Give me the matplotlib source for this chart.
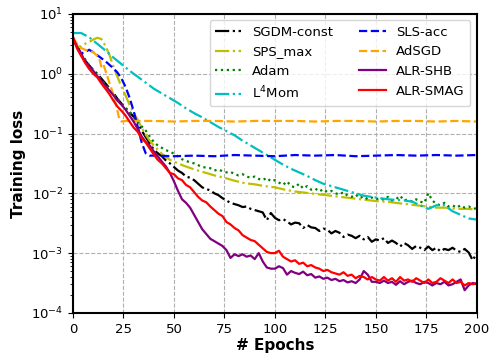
import numpy as np
import matplotlib
matplotlib.use('Agg')
import matplotlib.pyplot as plt

# values are log10(training loss)
ep2 = np.arange(0, 201, 2)

sgdm_const = [0.6, 0.45, 0.32, 0.22, 0.14, 0.06, 0.0, -0.08, -0.16, -0.24,
              -0.32, -0.42, -0.5, -0.58, -0.64, -0.72, -0.8, -0.95, -1.06, -1.16,
              -1.27, -1.33, -1.38, -1.45, -1.5, -1.56, -1.62, -1.66, -1.72, -1.74,
              -1.78, -1.84, -1.9, -1.93, -1.95, -2.0, -2.03, -2.08, -2.12, -2.16,
              -2.18, -2.2, -2.23, -2.22, -2.26, -2.28, -2.3, -2.32, -2.45, -2.33,
              -2.41, -2.45, -2.43, -2.47, -2.52, -2.49, -2.5, -2.58, -2.53, -2.57,
              -2.58, -2.63, -2.59, -2.61, -2.67, -2.63, -2.66, -2.73, -2.69, -2.71,
              -2.75, -2.71, -2.77, -2.73, -2.81, -2.77, -2.79, -2.75, -2.83, -2.79,
              -2.83, -2.89, -2.83, -2.87, -2.93, -2.88, -2.91, -2.95, -2.89, -2.95,
              -2.91, -2.97, -2.93, -2.95, -2.91, -2.96, -2.98, -2.93, -2.99, -3.12,
              -3.0]

sps_ep = list(range(0, 51, 2)) + list(range(55, 201, 5))
sps_max = [0.6, 0.45, 0.46, 0.5, 0.53, 0.57, 0.6, 0.58, 0.47, 0.32,
           0.12, -0.05, -0.22, -0.36, -0.52, -0.65, -0.77, -0.9, -1.02, -1.12,
           -1.2, -1.27, -1.34, -1.39, -1.44, -1.47,
           -1.54, -1.6, -1.65, -1.7, -1.74, -1.79, -1.83, -1.85, -1.88, -1.9,
           -1.94, -1.97, -1.99, -2.01, -2.03, -2.05, -2.07, -2.09, -2.11, -2.13,
           -2.14, -2.16, -2.18, -2.2, -2.22, -2.24, -2.24, -2.26, -2.26, -2.27]

adam = [0.6, 0.47, 0.34, 0.24, 0.14, 0.06, -0.02, -0.1, -0.18, -0.26,
        -0.34, -0.42, -0.5, -0.57, -0.64, -0.72, -0.8, -0.88, -0.95, -1.05,
        -1.14, -1.2, -1.24, -1.28, -1.3,
        -1.34, -1.38, -1.43, -1.46, -1.48, -1.5, -1.53, -1.56, -1.57, -1.58,
        -1.62, -1.6, -1.63, -1.65, -1.64, -1.68, -1.7, -1.68, -1.72, -1.74,
        -1.72, -1.76, -1.78, -1.74, -1.8,
        -1.78, -1.82, -1.86, -1.8, -1.88, -1.9, -1.84, -1.92, -1.88, -1.94,
        -1.92, -1.97, -1.93, -1.98, -1.96, -2.0, -2.02, -1.98, -2.04, -2.06,
        -2.02, -2.08, -2.05, -2.1, -2.07,
        -2.1, -2.08, -2.11, -2.06, -2.12, -2.1, -2.04, -2.12, -2.1, -2.14,
        -2.1, -2.14, -2.16, -2.0, -2.12, -2.18, -2.2, -2.16, -2.22, -2.2,
        -2.24, -2.2, -2.24, -2.22, -2.26, -2.25]

l4_ep = np.arange(0, 201, 4)
l4mom = [0.68, 0.68, 0.61, 0.5, 0.39, 0.27, 0.16, 0.05, -0.05, -0.15,
         -0.25, -0.33, -0.41, -0.49, -0.58, -0.66, -0.73, -0.81, -0.89, -0.96,
         -1.03, -1.12, -1.2, -1.28, -1.36, -1.44, -1.52, -1.59, -1.65, -1.71,
         -1.78, -1.84, -1.88, -1.92, -1.96, -2.0, -2.04, -2.06, -2.08, -2.1,
         -2.11, -2.12, -2.14, -2.2, -2.26, -2.2, -2.2, -2.3, -2.36, -2.42,
         -2.44]

sls_ep = list(range(0, 41, 2)) + list(range(50, 201, 10))
sls_acc = [0.6, 0.45, 0.34, 0.36, 0.4, 0.36, 0.31, 0.26, 0.21, 0.15,
           0.09, 0.02, -0.08, -0.22, -0.4, -0.62, -0.88, -1.15, -1.33, -1.37,
           -1.37,
           -1.38, -1.37, -1.38, -1.36, -1.37, -1.38, -1.36, -1.37, -1.36, -1.38,
           -1.37, -1.36, -1.37, -1.36, -1.37, -1.36]

adsgd_ep = [0, 2, 4, 6, 8, 10, 12, 13, 14, 15, 16, 18, 20, 22, 23, 24, 26, 28] + list(range(30, 201, 10))
adsgd = [0.6, 0.5, 0.43, 0.4, 0.38, 0.36, 0.3, 0.26, 0.12, 0.16,
         0.06, -0.15, -0.35, -0.62, -0.77, -0.8, -0.79, -0.79,
         -0.79, -0.79, -0.8, -0.79, -0.79, -0.8, -0.79, -0.79, -0.79, -0.8,
         -0.79, -0.79, -0.8, -0.79, -0.79, -0.8, -0.79, -0.8]

alr_shb = [0.6, 0.45, 0.34, 0.2, 0.12, 0.05, -0.04, -0.12, -0.2, -0.28,
           -0.36, -0.45, -0.52, -0.6, -0.7, -0.8, -0.92, -1.05, -1.14, -1.2,
           -1.3, -1.38, -1.47, -1.55, -1.66,
           -1.8, -1.96, -2.1, -2.16, -2.24, -2.36, -2.48, -2.6, -2.68, -2.76,
           -2.8, -2.84, -2.88, -2.95, -3.08, -3.02, -3.05, -3.02, -3.06, -3.04,
           -3.1, -3.0, -3.14, -3.24, -3.26,
           -3.26, -3.22, -3.25, -3.36, -3.3, -3.33, -3.35, -3.31, -3.37, -3.35,
           -3.41, -3.39, -3.43, -3.41, -3.45, -3.43, -3.47, -3.45, -3.49, -3.47,
           -3.5, -3.44, -3.3, -3.36, -3.48,
           -3.48, -3.5, -3.46, -3.5, -3.48, -3.53, -3.47, -3.52, -3.48, -3.46,
           -3.5, -3.52, -3.48, -3.5, -3.54, -3.5, -3.52, -3.48, -3.54, -3.52,
           -3.48, -3.44, -3.62, -3.54, -3.5, -3.52]

alr_smag = [0.6, 0.42, 0.3, 0.18, 0.08, 0.0, -0.06, -0.16, -0.25, -0.34,
            -0.45, -0.55, -0.62, -0.7, -0.8, -0.9, -0.97, -1.08, -1.15, -1.25,
            -1.35, -1.44, -1.5, -1.58, -1.66,
            -1.68, -1.75, -1.78, -1.86, -1.9, -1.98, -2.06, -2.12, -2.15, -2.22,
            -2.28, -2.34, -2.38, -2.48, -2.52, -2.58, -2.62, -2.7, -2.74, -2.78,
            -2.8, -2.86, -2.92, -2.98, -3.0,
            -3.0, -2.96, -3.06, -3.1, -3.14, -3.12, -3.18, -3.16, -3.22, -3.2,
            -3.24, -3.26, -3.3, -3.28, -3.32, -3.34, -3.36, -3.32, -3.38, -3.36,
            -3.42, -3.38, -3.4, -3.44, -3.4,
            -3.44, -3.46, -3.4, -3.46, -3.42, -3.48, -3.4, -3.46, -3.44, -3.48,
            -3.42, -3.46, -3.5, -3.44, -3.5, -3.48, -3.42, -3.46, -3.5, -3.44,
            -3.5, -3.48, -3.54, -3.5, -3.52, -3.5]

fig = plt.figure(figsize=(4.9, 3.56), dpi=100)
ax = fig.add_axes([0.149, 0.121, 0.824, 0.840])

lw = 1.6
ax.plot(ep2, 10 ** np.array(sgdm_const), 'k-.', lw=lw, label='SGDM-const')
ax.plot(sps_ep, 10 ** np.array(sps_max), 'y-.', lw=lw, label='SPS_max')
ax.plot(ep2, 10 ** np.array(adam), 'g:', lw=lw, label='Adam')
ax.plot(l4_ep, 10 ** np.array(l4mom), 'c-.', lw=lw, label='L$^4$Mom')
ax.plot(sls_ep, 10 ** np.array(sls_acc), 'b--', lw=lw, label='SLS-acc')
ax.plot(adsgd_ep, 10 ** np.array(adsgd), '--', color='orange', lw=lw, label='AdSGD')
ax.plot(ep2, 10 ** np.array(alr_shb), '-', color='purple', lw=lw, label='ALR-SHB')
ax.plot(ep2, 10 ** np.array(alr_smag), 'r-', lw=lw, label='ALR-SMAG')

ax.set_yscale('log')
ax.set_ylim(1e-4, 1e1)
ax.set_xlim(0, 200)
ax.set_xticks([0, 25, 50, 75, 100, 125, 150, 175, 200])
ax.tick_params(labelsize=9.5)
ax.grid(True, which='major', linestyle='--', color='#b0b0b0', lw=0.8)
for s in ax.spines.values():
    s.set_linewidth(1.5)

ax.set_xlabel('# Epochs', fontsize=11, fontweight='bold', labelpad=2)
ax.set_ylabel('Training loss', fontsize=11, fontweight='bold')
ax.legend(ncol=2, loc='upper right', fontsize=9.5)

fig.savefig('out.png', dpi=100)
